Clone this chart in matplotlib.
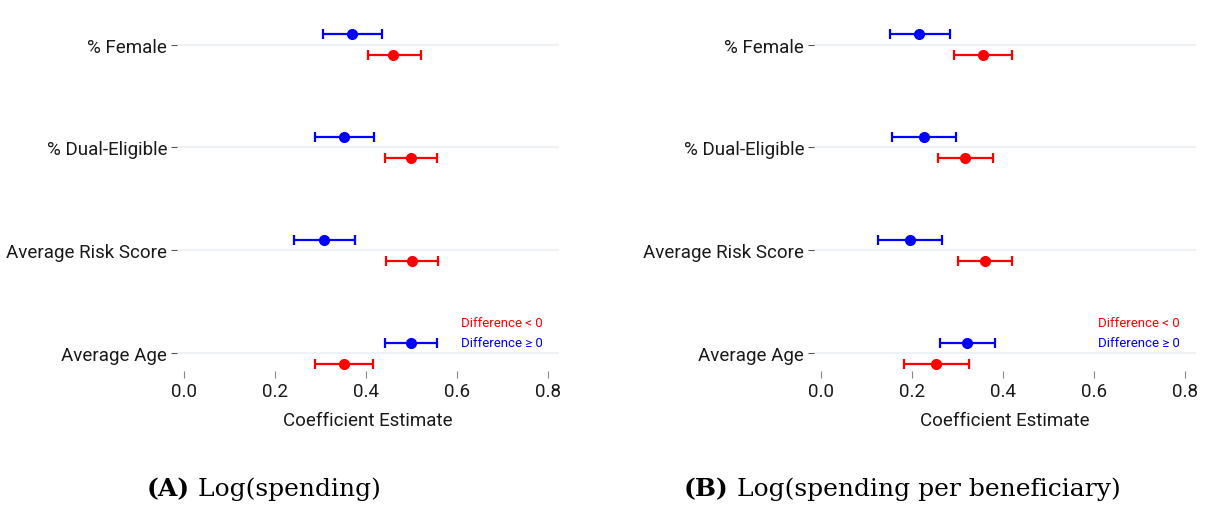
import matplotlib.pyplot as plt
import numpy as np

# rows (top to bottom)
covariates = ['% Female', '% Dual-Eligible', 'Average Risk Score', 'Average Age']

# (A) Log(spending): estimate, lower, upper
a_pos_est = [0.369, 0.353, 0.308, 0.499]
a_pos_lo = [0.306, 0.288, 0.242, 0.442]
a_pos_hi = [0.435, 0.419, 0.377, 0.556]
a_neg_est = [0.461, 0.500, 0.502, 0.352]
a_neg_lo = [0.406, 0.443, 0.444, 0.288]
a_neg_hi = [0.521, 0.557, 0.558, 0.416]

# (B) Log(spending per beneficiary)
b_pos_est = [0.216, 0.227, 0.195, 0.322]
b_pos_lo = [0.152, 0.157, 0.125, 0.262]
b_pos_hi = [0.283, 0.297, 0.266, 0.382]
b_neg_est = [0.356, 0.318, 0.361, 0.253]
b_neg_lo = [0.293, 0.258, 0.301, 0.183]
b_neg_hi = [0.420, 0.378, 0.421, 0.326]

xticks = [0.0, 0.2, 0.4, 0.6, 0.8]

sans = ['Roboto', 'DejaVu Sans']
serif = ['DejaVu Serif']

fig = plt.figure(figsize=(12.09, 5.06), dpi=100)

def coef_panel(ax, pos_est, pos_lo, pos_hi, neg_est, neg_lo, neg_hi):
    y = np.arange(len(covariates), 0, -1)
    for yy in y:
        ax.axhline(yy, color='#EEF2F4', lw=1.5, zorder=0)
    for est, lo, hi, off, col in [(pos_est, pos_lo, pos_hi, 0.1, '#0000FF'),
                                  (neg_est, neg_lo, neg_hi, -0.105, '#FF0000')]:
        est = np.array(est)
        err = [est - np.array(lo), np.array(hi) - est]
        ax.errorbar(est, y + off, xerr=err, fmt='o', color=col, ms=7,
                    elinewidth=1.6, capsize=3.5, capthick=1.6)
    ax.set_xlim(-0.015, 0.825)
    ax.set_ylim(0.825, 4.25)
    ax.set_yticks(y)
    ax.set_yticklabels(covariates, family=sans, fontsize=13.5, color='#1a1a1a')
    ax.set_xticks(xticks)
    ax.set_xticklabels(['%.1f' % t for t in xticks], family=sans, fontsize=13.5,
                       color='#1a1a1a')
    ax.tick_params(axis='y', length=4, color='#555555', pad=3)
    ax.tick_params(axis='x', length=5, color='#888888', pad=3)
    for s in ax.spines.values():
        s.set_visible(False)
    ax.set_xlabel('Coefficient Estimate', family=sans, fontsize=13.5,
                  color='#1a1a1a', labelpad=8)
    ax.text(0.79, 1.30, 'Difference < 0', color='#FF0000', ha='right',
            va='center', family=sans, fontsize=9.5)
    ax.text(0.79, 1.10, 'Difference \u2265 0', color='#0000FF', ha='right',
            va='center', family=sans, fontsize=9.5)

ax1 = fig.add_axes([0.1464, 0.2648, 0.316, 0.6957])
coef_panel(ax1, a_pos_est, a_pos_lo, a_pos_hi, a_neg_est, a_neg_lo, a_neg_hi)
ax2 = fig.add_axes([0.6733, 0.2648, 0.316, 0.6957])
coef_panel(ax2, b_pos_est, b_pos_lo, b_pos_hi, b_neg_est, b_neg_lo, b_neg_hi)

# panel captions: bold tag followed by plain title
for x0, tag, name in [(147 / 1209, '(A)', 'Log(spending)'),
                      (684 / 1209, '(B)', 'Log(spending per beneficiary)')]:
    t = fig.text(x0, 1 - 489 / 506, tag, family=serif, fontsize=18,
                 fontweight='bold', va='center', ha='left')
    plt.annotate(' ' + name, xy=(1, 0.5), xycoords=t, va='center',
                 ha='left', family=serif, fontsize=18, annotation_clip=False)

fig.savefig('out.png', dpi=100)
